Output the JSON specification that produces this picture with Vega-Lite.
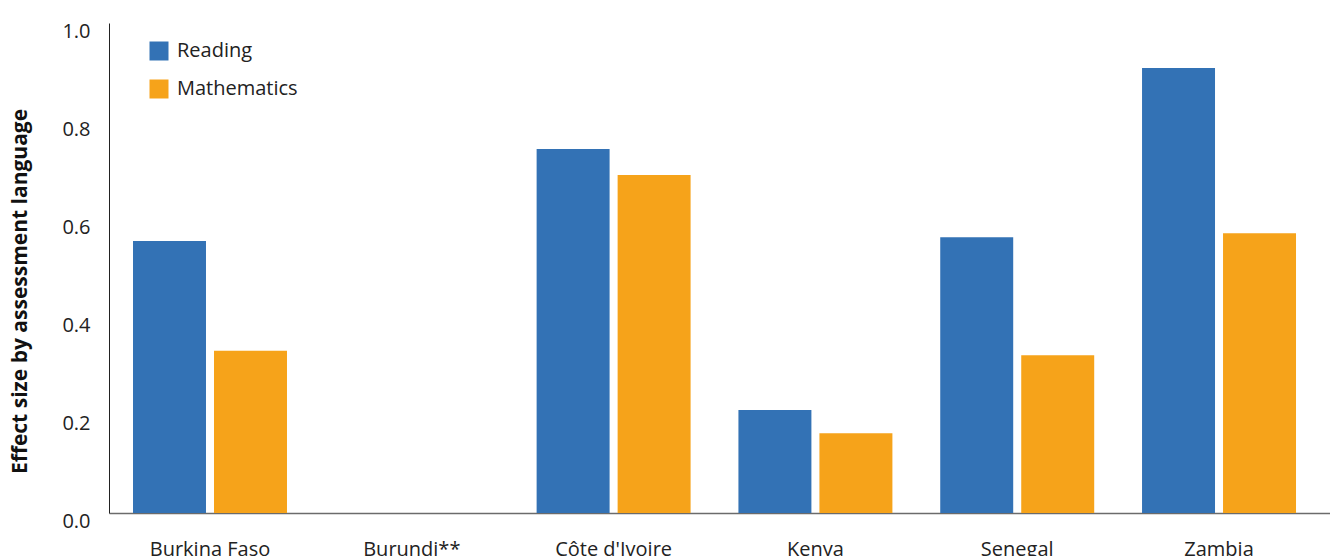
{
  "$schema": "https://vega.github.io/schema/vega-lite/v6.json",
  "autosize": {"type": "none"},
  "padding": {"left": 109, "top": 23, "right": 0, "bottom": 43},
  "width": 1221,
  "height": 490,
  "background": "white",
  "config": {
    "view": {"stroke": null},
    "font": "Open Sans",
    "axis": {"grid": false, "ticks": false, "labelFont": "Open Sans", "labelFontSize": 20, "labelColor": "#222222", "titleFont": "Open Sans"},
    "legend": {"labelFont": "Open Sans", "labelFontSize": 20, "labelColor": "#222222"}
  },
  "data": {
    "values": [
      {"country": "Burkina Faso", "subject": "Reading", "effect": 0.555},
      {"country": "Burkina Faso", "subject": "Mathematics", "effect": 0.331},
      {"country": "Burundi**", "subject": "Reading", "effect": null},
      {"country": "Burundi**", "subject": "Mathematics", "effect": null},
      {"country": "Côte d'Ivoire", "subject": "Reading", "effect": 0.743},
      {"country": "Côte d'Ivoire", "subject": "Mathematics", "effect": 0.69},
      {"country": "Kenya", "subject": "Reading", "effect": 0.21},
      {"country": "Kenya", "subject": "Mathematics", "effect": 0.163},
      {"country": "Senegal", "subject": "Reading", "effect": 0.563},
      {"country": "Senegal", "subject": "Mathematics", "effect": 0.322},
      {"country": "Zambia", "subject": "Reading", "effect": 0.908},
      {"country": "Zambia", "subject": "Mathematics", "effect": 0.571}
    ]
  },
  "mark": {"type": "bar"},
  "encoding": {
    "x": {
      "field": "country",
      "type": "nominal",
      "sort": null,
      "scale": {
        "domain": ["Burkina Faso", "Burundi**", "Côte d'Ivoire", "Kenya", "Senegal", "Zambia"],
        "paddingInner": 0.237,
        "paddingOuter": 0.1437,
        "align": 0.414
      },
      "axis": {"title": null, "labelAngle": 0, "labelPadding": 26, "domainColor": "#6b6b6b", "domainWidth": 1.5}
    },
    "xOffset": {
      "field": "subject",
      "type": "nominal",
      "sort": ["Reading", "Mathematics"],
      "scale": {"domain": ["Reading", "Mathematics"], "paddingInner": 0.099, "paddingOuter": 0}
    },
    "y": {
      "field": "effect",
      "type": "quantitative",
      "scale": {"domain": [0, 1], "nice": false},
      "axis": {
        "title": "Effect size by assessment language",
        "titleFontSize": 21,
        "titleFontWeight": "bold",
        "titleColor": "#111111",
        "titleX": -89,
        "titleY": 268,
        "titleBaseline": "middle",
        "format": ".1f",
        "values": [0, 0.2, 0.4, 0.6, 0.8, 1.0],
        "labelPadding": 19,
        "labelOffset": 8,
        "domainColor": "#222222",
        "domainWidth": 1
      }
    },
    "color": {
      "field": "subject",
      "type": "nominal",
      "sort": ["Reading", "Mathematics"],
      "scale": {"domain": ["Reading", "Mathematics"], "range": ["#3372b5", "#f6a31a"]},
      "legend": {
        "title": null,
        "orient": "none",
        "legendX": 40,
        "legendY": 18,
        "symbolType": "square",
        "symbolSize": 361,
        "symbolStrokeWidth": 0,
        "labelOffset": 8,
        "rowPadding": 18,
        "padding": 0
      }
    }
  }
}
